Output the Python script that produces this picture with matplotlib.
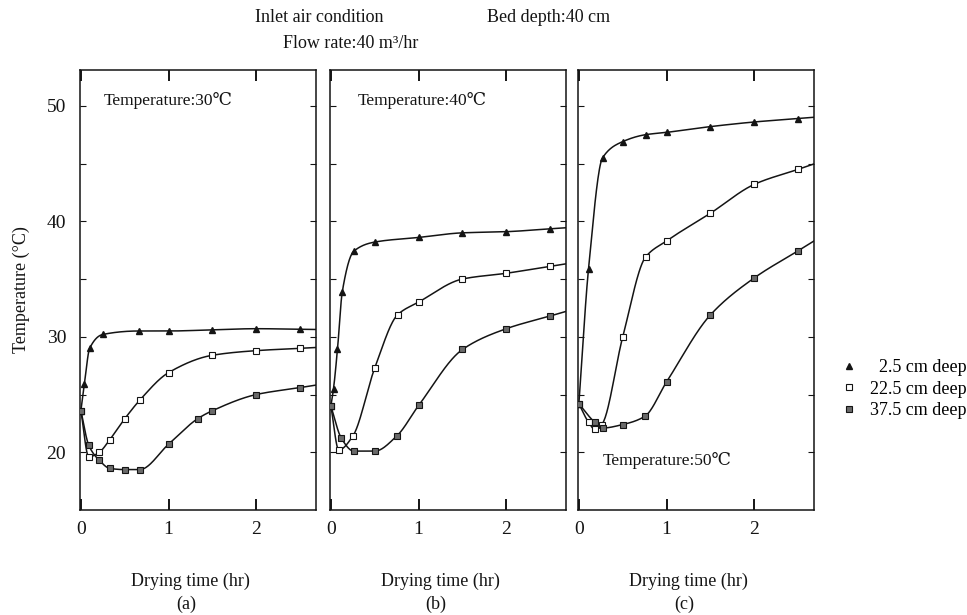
import numpy as np
import matplotlib
matplotlib.use('Agg')
import matplotlib.pyplot as plt
from matplotlib.lines import Line2D

plt.rcParams['font.family'] = ['Liberation Serif', 'DejaVu Serif']

# ─── data (time in hr, temperature in °C) ───────────────────────────────────
# (a) inlet 30 °C
a_t_top = [0, 0.04, 0.1, 0.25, 0.66, 1.0, 1.5, 2.0, 2.5]
a_T_top = [23.6, 25.9, 29.0, 30.2, 30.5, 30.5, 30.6, 30.7, 30.65]
a_t_mid = [0, 0.09, 0.21, 0.33, 0.5, 0.67, 1.0, 1.5, 2.0, 2.5]
a_T_mid = [23.6, 19.6, 20.0, 21.1, 22.9, 24.5, 26.9, 28.4, 28.8, 29.0]
a_t_bot = [0, 0.09, 0.21, 0.33, 0.5, 0.67, 1.0, 1.33, 1.5, 2.0, 2.5]
a_T_bot = [23.6, 20.6, 19.3, 18.6, 18.5, 18.5, 20.7, 22.9, 23.6, 25.0, 25.6]

# (b) inlet 40 °C
b_t_top = [0, 0.03, 0.075, 0.13, 0.26, 0.5, 1.0, 1.5, 2.0, 2.5]
b_T_top = [24.0, 25.5, 28.9, 33.9, 37.4, 38.2, 38.6, 39.0, 39.1, 39.35]
b_t_mid = [0, 0.09, 0.25, 0.5, 0.76, 1.0, 1.5, 2.0, 2.5]
b_T_mid = [24.0, 20.2, 21.4, 27.3, 31.9, 33.0, 35.0, 35.5, 36.1]
b_t_bot = [0, 0.12, 0.26, 0.5, 0.75, 1.0, 1.5, 2.0, 2.5]
b_T_bot = [24.0, 21.2, 20.1, 20.1, 21.4, 24.05, 28.9, 30.7, 31.8]

# (c) inlet 50 °C
c_t_top = [0, 0.11, 0.27, 0.5, 0.76, 1.0, 1.5, 2.0, 2.5]
c_T_top = [24.2, 35.9, 45.5, 46.9, 47.5, 47.7, 48.2, 48.6, 48.9]
c_t_mid = [0, 0.11, 0.18, 0.26, 0.5, 0.76, 1.0, 1.5, 2.0, 2.5]
c_T_mid = [24.2, 22.6, 22.0, 22.4, 30.0, 36.9, 38.3, 40.7, 43.2, 44.5]
c_t_bot = [0, 0.18, 0.27, 0.5, 0.75, 1.0, 1.5, 2.0, 2.5]
c_T_bot = [24.2, 22.6, 22.1, 22.4, 23.1, 26.1, 31.9, 35.1, 37.45]

panel_inlet = ['Temperature:30\u2103', 'Temperature:40\u2103', 'Temperature:50\u2103']
panel_tags = ['(a)', '(b)', '(c)']
depth_labels = ['\u20072.5 cm deep', '22.5 cm deep', '37.5 cm deep']

INK = '#141414'
GREY = '#6a6a6a'
STYLES = [dict(marker='^', ms=4.5, mfc=INK, mec=INK),
          dict(marker='s', ms=5, mfc='white', mec=INK, mew=0.8),
          dict(marker='s', ms=5, mfc=GREY, mec=INK, mew=0.8)]


def _smooth(t, T, xmax, n=300):
    """Monotone cubic (PCHIP) curve through the read points, drawn to the axis edge."""
    t = np.asarray(t, float)
    T = np.asarray(T, float)
    h = np.diff(t)
    d = np.diff(T) / h
    m = np.zeros_like(T)
    for k in range(1, len(t) - 1):
        if d[k - 1] * d[k] > 0:
            w1 = 2 * h[k] + h[k - 1]
            w2 = h[k] + 2 * h[k - 1]
            m[k] = (w1 + w2) / (w1 / d[k - 1] + w2 / d[k])
    m[0] = d[0]
    m[-1] = d[-1]
    xs = np.linspace(t[0], t[-1], n)
    idx = np.clip(np.searchsorted(t, xs) - 1, 0, len(t) - 2)
    s = (xs - t[idx]) / h[idx]
    h00 = 2 * s**3 - 3 * s**2 + 1
    h10 = s**3 - 2 * s**2 + s
    h01 = -2 * s**3 + 3 * s**2
    h11 = s**3 - s**2
    ys = h00 * T[idx] + h10 * h[idx] * m[idx] + h01 * T[idx + 1] + h11 * h[idx] * m[idx + 1]
    # carry the last slope on to the right spine
    xe = np.linspace(t[-1], xmax, 10)
    ye = T[-1] + m[-1] * (xe - t[-1])
    return np.concatenate([xs, xe]), np.concatenate([ys, ye])


panels = [
    [(a_t_top, a_T_top), (a_t_mid, a_T_mid), (a_t_bot, a_T_bot)],
    [(b_t_top, b_T_top), (b_t_mid, b_T_mid), (b_t_bot, b_T_bot)],
    [(c_t_top, c_T_top), (c_t_mid, c_T_mid), (c_t_bot, c_T_bot)],
]

fig = plt.figure(figsize=(9.67, 6.15), dpi=100, facecolor='white')

lefts = [80, 330, 578]
XMAX = 2.68
axes = []
for i, left in enumerate(lefts):
    ax = fig.add_axes([left / 967, 105 / 615, 236 / 967, 440 / 615])
    axes.append(ax)
    for (t, T), st in zip(panels[i], STYLES):
        xs, ys = _smooth(t, T, XMAX)
        ax.plot(xs, ys, color=INK, lw=1.1, zorder=2)
        ax.plot(t, T, ls='none', zorder=3, **st)

    ax.set_xlim(-0.01, XMAX)
    ax.set_ylim(15, 53.1)
    ax.set_xticks([0, 1, 2])
    ax.set_yticks([20, 30, 40, 50])
    ax.set_yticks([25, 35, 45], minor=True)
    ax.tick_params(axis='x', direction='in', top=True, bottom=True, length=8,
                   width=1.4, labelsize=14, pad=8, colors=INK)
    ax.tick_params(axis='y', which='both', direction='in', left=True, right=True,
                   length=4, width=0.8, labelsize=14, pad=10, colors=INK)
    if i > 0:
        ax.tick_params(axis='y', labelleft=False)
    for sp in ax.spines.values():
        sp.set_linewidth(1.1)
        sp.set_color(INK)

    ax.set_xlabel('Drying time (hr)', fontsize=13, labelpad=25, x=0.47, color=INK)
    ax.text(0.45, -0.215, panel_tags[i], transform=ax.transAxes, ha='center',
            va='center', fontsize=13, color=INK)

axes[0].set_ylabel('Temperature (\u00b0C)', fontsize=13, labelpad=12, color=INK)

# inlet temperature notes
axes[0].text(0.26, 50.5, panel_inlet[0], fontsize=12.5, va='center', color=INK)
axes[1].text(0.30, 50.5, panel_inlet[1], fontsize=12.5, va='center', color=INK)
axes[2].text(0.27, 19.3, panel_inlet[2], fontsize=12.5, va='center', color=INK)

# heading
fig.text(255 / 967, 1 - 17 / 615, 'Inlet air condition', fontsize=13, va='center', color=INK)
fig.text(487 / 967, 1 - 17 / 615, 'Bed depth:40 cm', fontsize=13, va='center', color=INK)
fig.text(283 / 967, 1 - 44 / 615, 'Flow rate:40 m\u00b3/hr', fontsize=13, va='center', color=INK)

# legend
handles = [Line2D([], [], ls='none', **st) for st in STYLES]
fig.legend(handles, depth_labels, loc='center left',
           bbox_to_anchor=(842 / 967, 1 - 389 / 615), frameon=False,
           fontsize=13, handlelength=0.8, handletextpad=0.75, labelspacing=0.25,
           borderpad=0, borderaxespad=0)

fig.savefig('out.png', dpi=100, facecolor='white')
